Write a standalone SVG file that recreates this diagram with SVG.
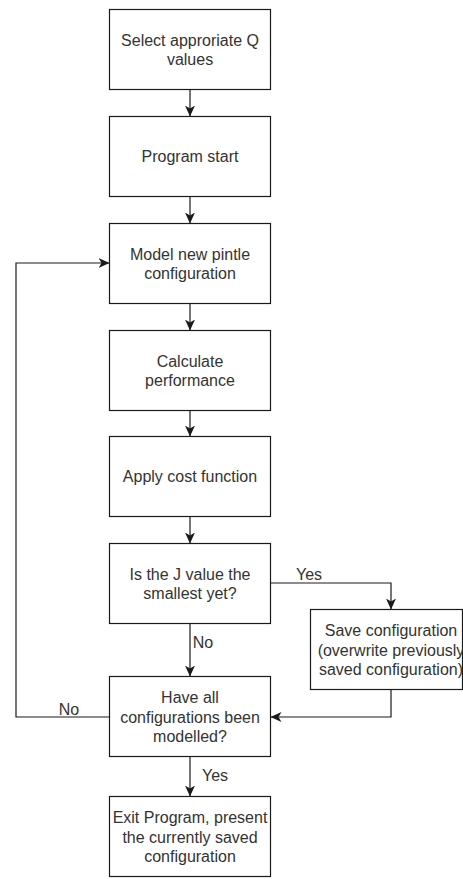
<svg xmlns="http://www.w3.org/2000/svg" width="463" height="879" viewBox="0 0 463 879">
  <style>
    .box { fill: #ffffff; stroke: #1a1a1a; stroke-width: 1.2; }
    .lbl { font-family: "Liberation Sans", Arial, sans-serif; font-size: 16px; fill: #333333; text-anchor: middle; }
    .edge { fill: none; stroke: #1a1a1a; stroke-width: 1.2; marker-end: url(#arrow); }
    .edge-lbl { font-family: "Liberation Sans", Arial, sans-serif; font-size: 16px; fill: #333333; text-anchor: middle; }
  </style>
  <defs>
    <marker id="arrow" viewBox="0 0 11 10" refX="11" refY="5" markerWidth="11" markerHeight="10" orient="auto" markerUnits="userSpaceOnUse">
      <path d="M0,0 L11,5 L0,10 L3,5 Z" fill="#1a1a1a"/>
    </marker>
  </defs>
  <rect width="463" height="879" fill="#ffffff"/>

  <g id="connectors">
    <path class="edge" d="M190,89.5 V116.5"/>
    <path class="edge" d="M190,196.5 V223.5"/>
    <path class="edge" d="M190,303.5 V330.5"/>
    <path class="edge" d="M190,410.5 V436.5"/>
    <path class="edge" d="M190,516.5 V543.5"/>
    <path class="edge" d="M270.5,583 H391 V609.5"/>
    <text class="edge-lbl" x="309" y="580">Yes</text>
    <path class="edge" d="M190,623.5 V676.5"/>
    <text class="edge-lbl" x="203" y="648" text-anchor="middle">No</text>
    <path class="edge" d="M391,689.5 V717 H270.5"/>
    <path class="edge" d="M109.5,717 H16 V263 H109.5"/>
    <text class="edge-lbl" x="69" y="715">No</text>
    <path class="edge" d="M190,756.5 V796.5"/>
    <text class="edge-lbl" x="215" y="781">Yes</text>
  </g>

  <g id="select-q">
    <rect class="box" x="109.5" y="9.5" width="161" height="80"/>
    <text class="lbl" x="190" y="45.5">Select approriate Q</text>
    <text class="lbl" x="190" y="65">values</text>
  </g>
  <g id="program-start">
    <rect class="box" x="109.5" y="116.5" width="161" height="80"/>
    <text class="lbl" x="190" y="162">Program start</text>
  </g>
  <g id="model-config">
    <rect class="box" x="109.5" y="223.5" width="161" height="80"/>
    <text class="lbl" x="190" y="259.5">Model new pintle</text>
    <text class="lbl" x="190" y="279">configuration</text>
  </g>
  <g id="calc-performance">
    <rect class="box" x="109.5" y="330.5" width="161" height="80"/>
    <text class="lbl" x="190" y="366.5">Calculate</text>
    <text class="lbl" x="190" y="386">performance</text>
  </g>
  <g id="cost-function">
    <rect class="box" x="109.5" y="436.5" width="161" height="80"/>
    <text class="lbl" x="190" y="482">Apply cost function</text>
  </g>
  <g id="smallest-j">
    <rect class="box" x="109.5" y="543.5" width="161" height="80"/>
    <text class="lbl" x="190" y="579.5">Is the J value the</text>
    <text class="lbl" x="190" y="599">smallest yet?</text>
  </g>
  <g id="save-config">
    <rect class="box" x="310.5" y="609.5" width="152" height="80"/>
    <text class="lbl" x="391" y="636">Save configuration</text>
    <text class="lbl" x="391" y="655.5">(overwrite previously</text>
    <text class="lbl" x="391" y="675">saved configuration)</text>
  </g>
  <g id="all-modelled">
    <rect class="box" x="109.5" y="676.5" width="161" height="80"/>
    <text class="lbl" x="190" y="703">Have all</text>
    <text class="lbl" x="190" y="722.5">configurations been</text>
    <text class="lbl" x="190" y="742">modelled?</text>
  </g>
  <g id="exit-program">
    <rect class="box" x="109.5" y="796.5" width="161" height="80"/>
    <text class="lbl" x="190" y="823">Exit Program, present</text>
    <text class="lbl" x="190" y="842.5">the currently saved</text>
    <text class="lbl" x="190" y="862">configuration</text>
  </g>
</svg>
